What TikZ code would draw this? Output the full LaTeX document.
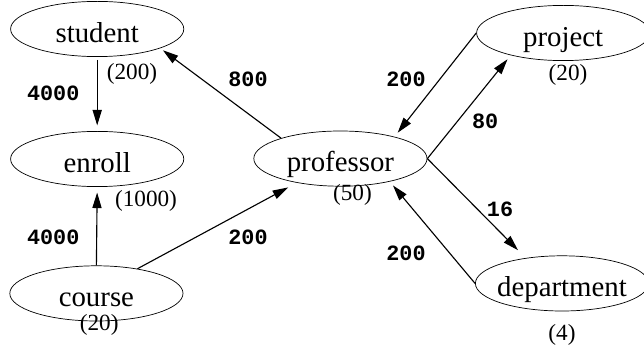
\documentclass[tikz,border=0pt]{standalone}
\usepackage{fontspec}
\setmainfont{Liberation Serif}
\setmonofont{Liberation Mono}
\usetikzlibrary{arrows.meta,shapes.geometric}
\tikzstyle{entity} = [ellipse, draw, line width=0.5pt, minimum width=4.33cm, minimum height=1.38cm, inner sep=0pt, text height=18.5pt, text depth=0pt, font=\fontsize{20.5}{24}\selectfont]
\tikzstyle{card} = [inner sep=0pt, font=\fontsize{16.5}{20}\selectfont]
\tikzstyle{weight} = [inner sep=0pt, font=\fontsize{15.5}{18}\selectfont\ttfamily\bfseries]
\tikzstyle{flow} = [line width=0.8pt, -{Triangle[length=11pt,width=6.5pt]}, shorten >=4pt]

\begin{document}
\begin{tikzpicture}
\useasboundingbox (0,0) rectangle (16.1,8.775);
\draw (2.43,8.05) node (student) [entity] {\makebox[0pt]{student}};
\draw (2.43,4.8) node (enroll) [entity] {\makebox[0pt]{enroll}};
\draw (2.41,1.44) node (course) [entity] {\makebox[0pt]{course}};
\draw (8.51,4.81) node (professor) [entity] {\makebox[0pt]{professor}};
\draw (14.08,7.95) node (project) [entity] {\makebox[0pt]{project}};
\draw (14.05,1.69) node (department) [entity] {\makebox[0pt]{department}};
%
\node (n1) [card] at (3.3,6.93) {(200)};
\node (n2) [card] at (3.65,3.75) {(1000)};
\node (n3) [card] at (2.48,0.65) {(20)};
\node (n4) [card] at (8.81,3.9) {(50)};
\node (n5) [card] at (14.2,6.9) {(20)};
\node (n6) [card] at (14.05,0.4) {(4)};
%
\draw[flow, shorten <=2pt] (student.south) -- (enroll.north);
\draw[flow] (course.north) -- (enroll.south);
\draw[flow, shorten >=2.4pt] (professor.161) -- (student.-17);
\draw[flow, shorten >=7pt] (course.31) -- (professor.-151);
\draw[flow, shorten >=3.6pt] (project.west) -- (professor.22);
\draw[flow, shorten >=3.6pt] (professor.east) -- (project.-157);
\draw[flow, shorten >=7.8pt] (professor.east) -- (department.145);
\draw[flow, shorten >=3.6pt] (department.west) -- (professor.-25);
%
\node (w1) [weight] at (1.33,6.45) {4000};
\node (w2) [weight] at (6.2,6.78) {800};
\node (w3) [weight] at (10.15,6.78) {200};
\node (w4) [weight] at (12.13,5.73) {80};
\node (w5) [weight] at (1.33,2.83) {4000};
\node (w6) [weight] at (6.2,2.83) {200};
\node (w7) [weight] at (12.5,3.55) {16};
\node (w8) [weight] at (10.15,2.45) {200};
\end{tikzpicture}
\end{document}
